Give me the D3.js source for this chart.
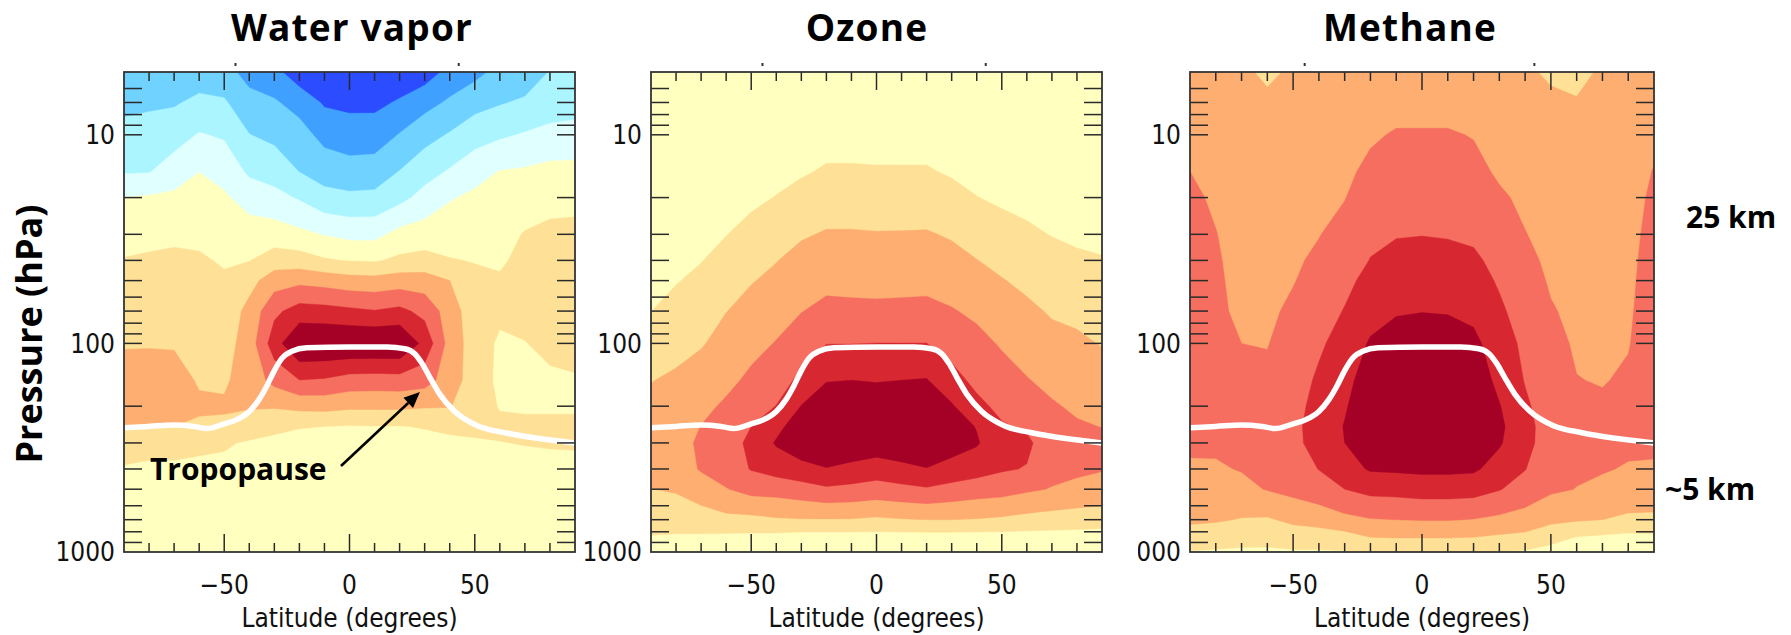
<!DOCTYPE html>
<html><head><meta charset="utf-8">
<script src="https://cdn.jsdelivr.net/npm/d3@7"></script>
<style>
html,body{margin:0;padding:0;background:#fff;}
svg{display:block;}
</style></head>
<body>
<svg id="chart" width="1791" height="635"></svg>
<script>
// ---------------- DATA ----------------
const latitudes = [-90,-80,-70,-60,-50,-40,-30,-20,-10,0,10,20,30,40,50,60,70,80,90];
const pressureLevels = [5,7,10,15,20,30,40,50,70,100,150,200,250,300,400,500,700,850,1000];
// contour band index thresholds (value >= t gets bandColors[t])
const bandThresholds = [1,2,3,4,5,6,7,8,9,10];
const bandColors = ["#2b4cff","#40a0ff","#70d2ff","#aaf5ff","#e0ffff","#ffffc0",
                    "#fee096","#fdae70","#f56e5f","#d72832","#a50026"];
const xTickLabels = [-50, 0, 50];
const yTickLabels = [10, 100, 1000];
const panelTitles = ["Water vapor", "Ozone", "Methane"];
const tropopauseLat = [-90,-80,-70,-62,-57,-50,-45,-40,-36,-33,-30,-27,-23,-17,0,15,22,26,29,32,36,42,51,62,75,90];
const tropopauseP   = [254,250,246,250,256,243,232,212,185,160,135,118,109,105,104,104,106,112,125,145,175,212,248,268,285,300];
const arrowFrom = [-3.4, 387];   // [lat, hPa]
const arrowTo   = [28.1, 171];

// columns: one per latitude, values at each pressure level (band-index units)
const waterVapor = [
 [2.4,2.75,3.31,3.9,5.02,5.61,6.05,6.24,6.56,6.9,7.5,7.3,7.0,6.56,5.9,5.6,5.4,5.35,5.3],
 [2.4,2.85,3.38,3.95,5.1,5.75,6.12,6.31,6.6,6.92,7.5,7.3,6.95,6.4,5.8,5.6,5.4,5.35,5.3],
 [2.4,2.9,3.57,4.5,5.19,5.84,6.16,6.34,6.62,6.91,7.4,7.3,7.0,6.4,5.8,5.6,5.4,5.35,5.3],
 [2.5,3.22,4.07,4.99,5.34,5.82,6.1,6.3,6.55,6.75,6.9,7.15,6.85,6.2,5.8,5.6,5.4,5.35,5.3],
 [2.4,3.11,3.88,4.67,5.13,5.59,5.92,6.1,6.35,6.6,6.88,7.1,6.85,6.1,5.8,5.6,5.4,5.35,5.3],
 [1.6,2.38,3.02,3.82,4.59,5.47,5.97,6.66,7.3,7.45,7.4,7.1,6.5,5.9,5.7,5.55,5.4,5.35,5.3],
 [1.3,2.11,2.76,3.58,4.3,5.48,6.49,7.53,8.78,9.55,8.31,7.1,6.2,5.8,5.6,5.5,5.4,5.35,5.3],
 [0.4,1.63,2.39,2.98,3.9,5.23,6.45,7.75,9.42,11,8.99,7.29,6.05,5.7,5.5,5.4,5.35,5.3,5.3],
 [0.3,0.88,1.68,2.59,3.3,4.95,6.1,7.6,9.35,11,8.9,7.35,6.0,5.7,5.5,5.4,5.35,5.3,5.3],
 [0.3,0.8,1.4,2.45,3.18,4.72,5.95,7.4,9.2,11,8.6,7.2,5.95,5.7,5.5,5.4,5.35,5.3,5.3],
 [0.3,0.78,1.45,2.5,3.22,4.72,5.9,7.35,9.05,11,8.55,7.2,5.97,5.7,5.5,5.4,5.35,5.3,5.3],
 [0.4,1.1,2.05,3.03,3.7,5.3,6.2,7.5,9.25,11,8.6,7.2,5.97,5.7,5.5,5.4,5.35,5.3,5.3],
 [0.5,1.65,2.65,3.6,4.35,5.45,6.35,7.45,8.7,9.7,8.4,7.1,6.05,5.75,5.55,5.45,5.4,5.35,5.35],
 [1.3,2.15,3.08,4.1,4.92,5.6,6.05,7.0,7.5,7.6,7.5,7.05,6.2,5.8,5.6,5.5,5.4,5.35,5.35],
 [1.7,2.67,3.55,4.67,5.18,5.64,5.96,6.2,6.4,6.5,6.5,6.4,6.22,5.9,5.6,5.5,5.4,5.35,5.35],
 [2.3,2.92,3.85,5.03,5.28,5.65,5.9,6.08,6.2,5.85,5.8,5.95,6.15,5.98,5.7,5.55,5.45,5.4,5.4],
 [2.4,3.15,4.08,5.12,5.5,6.06,6.2,6.25,6.2,5.98,5.8,5.9,6.15,6.03,5.75,5.6,5.5,5.45,5.4],
 [3.05,3.55,4.25,5.3,5.72,6.2,6.3,6.35,6.3,6.15,5.9,5.9,6.15,6.06,5.8,5.6,5.5,5.45,5.4],
 [3.1,3.6,4.35,5.3,5.78,6.2,6.3,6.35,6.3,6.2,5.95,5.9,6.15,6.08,5.8,5.6,5.5,5.45,5.4]
];
const ozone = [
 [5.1,5.2,5.3,5.45,5.55,5.7,5.8,5.88,5.99,6.45,6.97,7.2,7.35,7.4,7.3,6.98,6.35,5.95,5.6],
 [5.1,5.2,5.3,5.45,5.6,5.75,5.85,5.95,6.3,6.7,7.15,7.35,7.5,7.55,7.4,7.1,6.4,5.9,5.6],
 [5.1,5.2,5.3,5.5,5.65,5.85,5.97,6.2,6.55,6.92,7.45,7.75,8.02,8.2,8.1,7.45,6.6,5.85,5.55],
 [5.1,5.2,5.35,5.55,5.7,5.98,6.3,6.55,6.98,7.35,7.75,8.15,8.45,8.6,8.5,7.95,6.75,5.8,5.5],
 [5.1,5.25,5.4,5.65,5.82,6.28,6.65,6.95,7.3,7.7,8.2,8.6,9.0,9.2,9.05,8.35,6.75,5.75,5.45],
 [5.15,5.3,5.5,5.75,6.03,6.55,6.97,7.2,7.6,8.05,8.6,9.02,9.7,10.1,9.4,8.4,6.9,5.7,5.4],
 [5.2,5.35,5.6,5.9,6.3,6.9,7.3,7.5,7.97,8.55,9.2,10.03,10.6,10.7,9.65,8.6,6.95,5.6,5.4],
 [5.25,5.4,5.65,6.1,6.5,7.08,7.5,7.75,8.25,8.98,9.95,10.6,10.9,10.9,9.95,8.85,6.95,5.6,5.4],
 [5.25,5.4,5.65,6.1,6.5,7.08,7.45,7.72,8.22,8.98,10.0,10.6,10.9,10.8,9.7,8.75,6.95,5.6,5.4],
 [5.25,5.4,5.63,6.08,6.45,7.05,7.42,7.7,8.2,9.01,9.95,10.5,10.8,10.6,9.5,8.6,6.85,5.6,5.4],
 [5.25,5.4,5.63,6.08,6.45,7.06,7.44,7.72,8.22,9.01,10.0,10.6,10.9,10.8,9.7,8.75,6.95,5.6,5.4],
 [5.25,5.4,5.63,6.08,6.45,7.08,7.48,7.75,8.24,9.01,10.05,10.65,10.95,10.95,9.95,8.9,7.0,5.6,5.4],
 [5.2,5.35,5.6,5.9,6.3,6.9,7.3,7.55,8.07,8.6,9.35,10.1,10.5,10.5,9.6,8.7,7.0,5.6,5.4],
 [5.15,5.3,5.5,5.75,6.02,6.6,7.02,7.35,7.8,8.3,8.75,9.25,9.95,10.1,9.4,8.5,6.95,5.6,5.4],
 [5.1,5.25,5.4,5.62,5.85,6.35,6.75,7.05,7.5,7.9,8.4,8.75,9.1,9.3,9.1,8.4,6.85,5.6,5.4],
 [5.1,5.2,5.35,5.55,5.75,6.15,6.5,6.78,7.2,7.55,8.05,8.45,8.85,9.2,8.95,8.15,6.7,5.6,5.4],
 [5.1,5.2,5.3,5.5,5.65,5.97,6.3,6.52,6.9,7.3,7.75,8.1,8.3,8.4,8.3,7.95,6.6,5.6,5.4],
 [5.05,5.15,5.25,5.45,5.6,5.87,6.12,6.4,6.78,7.17,7.55,7.85,8.1,8.25,8.15,7.8,6.5,5.6,5.4],
 [5.05,5.12,5.22,5.4,5.55,5.8,6.05,6.28,6.6,6.95,7.4,7.7,7.98,8.2,8.05,7.65,6.45,5.55,5.35]
];
const methane = [
 [7.2,7.4,7.65,8.0,8.2,8.4,8.5,8.55,8.6,8.6,8.55,8.45,8.35,8.2,7.85,7.6,7.15,6.6,5.95],
 [7.2,7.35,7.5,7.7,7.85,8.03,8.1,8.12,8.12,8.15,8.3,8.3,8.25,8.15,7.9,7.7,7.1,6.45,5.9],
 [7.25,7.2,7.3,7.4,7.5,7.6,7.7,7.78,7.88,8.0,8.15,8.2,8.2,8.15,8.05,7.75,6.95,6.35,5.85],
 [6.75,7.25,7.3,7.4,7.5,7.6,7.7,7.75,7.85,7.97,8.15,8.25,8.3,8.3,8.2,8.05,6.9,6.3,5.85],
 [7.2,7.3,7.4,7.55,7.65,7.78,7.88,7.96,8.15,8.35,8.55,8.7,8.8,8.8,8.6,8.3,7.2,6.5,5.9],
 [7.15,7.3,7.45,7.65,7.8,7.97,8.15,8.3,8.55,8.85,9.15,9.3,9.35,9.3,9.02,8.6,7.4,6.5,5.9],
 [7.2,7.35,7.55,7.78,7.97,8.3,8.55,8.75,9.05,9.4,9.7,9.9,10.05,10.0,9.6,9.0,7.75,6.6,5.95],
 [7.2,7.45,7.85,8.25,8.5,8.8,9.03,9.3,9.65,10.1,10.5,10.7,10.75,10.7,10.1,9.3,7.95,7.0,6.0],
 [7.25,7.6,8.1,8.4,8.65,8.95,9.25,9.45,9.9,10.5,10.8,10.9,10.9,10.8,10.15,9.35,8.0,7.05,6.05],
 [7.25,7.6,8.1,8.42,8.68,8.98,9.28,9.5,9.97,10.6,10.9,11,11,10.9,10.2,9.45,8.05,7.05,6.05],
 [7.25,7.6,8.1,8.4,8.65,8.95,9.22,9.45,9.93,10.55,10.85,11,11,10.9,10.2,9.45,8.05,7.05,6.05],
 [7.2,7.5,7.95,8.3,8.55,8.85,9.15,9.37,9.75,10.25,10.6,10.75,10.8,10.7,10.15,9.4,7.97,7.0,6.0],
 [7.15,7.35,7.55,7.85,8.15,8.5,8.75,8.9,9.15,9.45,9.75,10.05,10.2,10.1,9.6,9.05,7.8,6.85,5.95],
 [7.1,7.25,7.42,7.63,7.8,8.03,8.25,8.4,8.6,8.8,8.95,9.15,9.3,9.3,9.03,8.6,7.6,6.75,5.9],
 [6.9,7.12,7.3,7.45,7.55,7.7,7.8,7.9,8.07,8.25,8.4,8.5,8.55,8.5,8.35,8.15,7.25,6.3,5.7],
 [6.6,7.1,7.25,7.4,7.48,7.58,7.66,7.72,7.8,7.9,8.02,8.12,8.18,8.2,8.12,7.98,7.1,5.97,5.6],
 [7.2,7.3,7.38,7.45,7.5,7.58,7.63,7.68,7.75,7.85,7.96,8.1,8.15,8.15,8.05,7.85,7.0,5.85,5.5],
 [7.2,7.3,7.4,7.5,7.58,7.67,7.75,7.8,7.88,7.96,8.1,8.15,8.15,8.12,7.95,7.7,6.8,5.75,5.45],
 [7.3,7.5,7.75,8.05,8.2,8.35,8.42,8.45,8.45,8.42,8.35,8.25,8.15,8.08,7.95,7.6,6.8,5.8,5.45]
];

// ---------------- LAYOUT ----------------
const W = 1791, H = 635, Y0 = 72, Y1 = 552;
const panels = [
  {title: panelTitles[0], grid: waterVapor, x0: 124, x1: 575, titleX: 352},
  {title: panelTitles[1], grid: ozone,      x0: 651, x1: 1102, titleX: 867},
  {title: panelTitles[2], grid: methane,    x0: 1190, x1: 1654, titleX: 1410, labelClipX: 1138}
];
const tickFont = '"DejaVu Sans Condensed", "DejaVu Sans", sans-serif';
const boldFont = '"Open Sans", "Noto Sans", sans-serif';
const tickFontSize = 26;

const svg = d3.select("#chart");
svg.append("rect").attr("width", W).attr("height", H).attr("fill", "#fff");
const defs = svg.append("defs");

const nLat = latitudes.length, nP = pressureLevels.length;
const logP = pressureLevels.map(Math.log10);

function gridToLat(g) {
  const t = Math.max(0, Math.min(nLat - 1, g - 0.5));
  const k = Math.min(nLat - 2, Math.floor(t)), f = t - k;
  return latitudes[k] + f * (latitudes[k + 1] - latitudes[k]);
}
function gridToP(g) {
  const t = Math.max(0, Math.min(nP - 1, g - 0.5));
  const k = Math.min(nP - 2, Math.floor(t)), f = t - k;
  return Math.pow(10, logP[k] + f * (logP[k + 1] - logP[k]));
}

panels.forEach((cfg, pi) => {
  const x = d3.scaleLinear().domain([-90, 90]).range([cfg.x0, cfg.x1]);
  const y = d3.scaleLog().domain([5, 1000]).range([Y0, Y1]);
  const g = svg.append("g");

  const clipId = "clip" + pi;
  defs.append("clipPath").attr("id", clipId).append("rect")
    .attr("x", cfg.x0).attr("y", Y0).attr("width", cfg.x1 - cfg.x0).attr("height", Y1 - Y0);

  // grid values in row-major order (rows = pressure levels)
  const values = new Array(nLat * nP);
  for (let j = 0; j < nP; j++) for (let i = 0; i < nLat; i++) values[j * nLat + i] = cfg.grid[i][j];
  const contours = d3.contours().size([nLat, nP]).thresholds(bandThresholds)(values);
  const proj = d3.geoTransform({point: function(px, py) { this.stream.point(x(gridToLat(px)), y(gridToP(py))); }});
  const path = d3.geoPath(proj);

  const plot = g.append("g").attr("clip-path", `url(#${clipId})`);
  plot.append("rect").attr("x", cfg.x0).attr("y", Y0).attr("width", cfg.x1 - cfg.x0).attr("height", Y1 - Y0)
    .attr("fill", bandColors[0]);
  plot.selectAll("path.band").data(contours).join("path").attr("class", "band")
    .attr("d", path).attr("fill", d => bandColors[d.value])
    .attr("stroke", d => bandColors[d.value]).attr("stroke-width", 0.4);

  // tropopause
  const line = d3.line().x(d => x(d[0])).y(d => y(d[1])).curve(d3.curveMonotoneX);
  plot.append("path").datum(tropopauseLat.map((l, i) => [l, tropopauseP[i]]))
    .attr("d", line).attr("fill", "none").attr("stroke", "#fff").attr("stroke-width", 5.5)
    .attr("stroke-linecap", "round");

  // ticks
  const tickCol = "#2a2a2a";
  const xt = d3.range(-80, 81, 10);
  xt.forEach(v => {
    const len = xTickLabels.includes(v) ? 18 : 9;
    g.append("line").attr("x1", x(v)).attr("x2", x(v)).attr("y1", Y1).attr("y2", Y1 - len)
      .attr("stroke", tickCol).attr("stroke-width", 1.5);
    g.append("line").attr("x1", x(v)).attr("x2", x(v)).attr("y1", Y0).attr("y2", Y0 + len)
      .attr("stroke", tickCol).attr("stroke-width", 1.5);
  });
  y.ticks().filter(v => v > 5 && v < 1000).forEach(v => {
    g.append("line").attr("x1", cfg.x0).attr("x2", cfg.x0 + 18).attr("y1", y(v)).attr("y2", y(v))
      .attr("stroke", tickCol).attr("stroke-width", 1.5);
    g.append("line").attr("x1", cfg.x1).attr("x2", cfg.x1 - 18).attr("y1", y(v)).attr("y2", y(v))
      .attr("stroke", tickCol).attr("stroke-width", 1.5);
  });
  g.append("rect").attr("x", cfg.x0).attr("y", Y0).attr("width", cfg.x1 - cfg.x0).attr("height", Y1 - Y0)
    .attr("fill", "none").attr("stroke", "#333").attr("stroke-width", 1.8);

  // y tick labels
  const yl = g.append("g");
  if (cfg.labelClipX) {
    defs.append("clipPath").attr("id", "lclip" + pi).append("rect")
      .attr("x", cfg.labelClipX).attr("y", 0).attr("width", W - cfg.labelClipX).attr("height", H);
    yl.attr("clip-path", `url(#lclip${pi})`);
  }
  yTickLabels.forEach(v => {
    yl.append("text").attr("x", cfg.x0 - 9).attr("y", y(v)).attr("dy", "0.36em")
      .attr("text-anchor", "end").attr("font-family", tickFont).attr("font-stretch", "condensed")
      .attr("font-size", tickFontSize).attr("fill", "#111").text(v);
  });
  // x tick labels
  xTickLabels.forEach(v => {
    g.append("text").attr("x", x(v)).attr("y", 594).attr("text-anchor", "middle")
      .attr("font-family", tickFont).attr("font-stretch", "condensed").attr("font-size", tickFontSize)
      .attr("fill", "#111").text(v < 0 ? "\u2212" + Math.abs(v) : String(v));
  });
  g.append("text").attr("x", (cfg.x0 + cfg.x1) / 2).attr("y", 627).attr("text-anchor", "middle")
    .attr("font-family", tickFont).attr("font-stretch", "condensed").attr("font-size", tickFontSize)
    .attr("fill", "#111").text("Latitude (degrees)");

  // title
  g.append("text").attr("x", cfg.titleX).attr("y", 41).attr("text-anchor", "middle")
    .attr("font-family", boldFont).attr("font-weight", 700).attr("font-size", 37)
    .attr("letter-spacing", 1.2).attr("fill", "#000").text(cfg.title);

  // tiny specks above panel (remnants in the source)
  [0.245, 0.74].forEach(fr => {
    g.append("rect").attr("x", cfg.x0 + fr * (cfg.x1 - cfg.x0)).attr("y", 63).attr("width", 2).attr("height", 3)
      .attr("fill", "#333");
  });

  // annotation on first panel
  if (pi === 0) {
    const ax1 = x(arrowFrom[0]), ay1 = y(arrowFrom[1]);
    const ax2 = x(arrowTo[0]), ay2 = y(arrowTo[1]);
    const ang = Math.atan2(ay2 - ay1, ax2 - ax1);
    const hl = 16, hw = 7;
    const bx = ax2 - hl * Math.cos(ang), by = ay2 - hl * Math.sin(ang);
    g.append("line").attr("x1", ax1).attr("y1", ay1).attr("x2", bx).attr("y2", by)
      .attr("stroke", "#000").attr("stroke-width", 2.6);
    g.append("path").attr("d", `M${ax2},${ay2} L${bx - hw * Math.sin(ang)},${by + hw * Math.cos(ang)} L${bx + hw * Math.sin(ang)},${by - hw * Math.cos(ang)} Z`)
      .attr("fill", "#000");
    g.append("text").attr("x", 150).attr("y", 480).attr("font-family", boldFont).attr("font-weight", 700)
      .attr("font-size", 30).attr("fill", "#000").text("Tropopause");
  }
});

// axis title and altitude notes
svg.append("text").attr("transform", "translate(42,334) rotate(-90)").attr("text-anchor", "middle")
  .attr("font-family", boldFont).attr("font-weight", 700).attr("font-size", 36).attr("fill", "#000")
  .text("Pressure (hPa)");
svg.append("text").attr("x", 1686).attr("y", 228).attr("font-family", boldFont).attr("font-weight", 700)
  .attr("font-size", 30).attr("fill", "#000").text("25 km");
svg.append("text").attr("x", 1665).attr("y", 500).attr("font-family", boldFont).attr("font-weight", 700)
  .attr("font-size", 30).attr("fill", "#000").text("~5 km");
</script>
</body></html>
